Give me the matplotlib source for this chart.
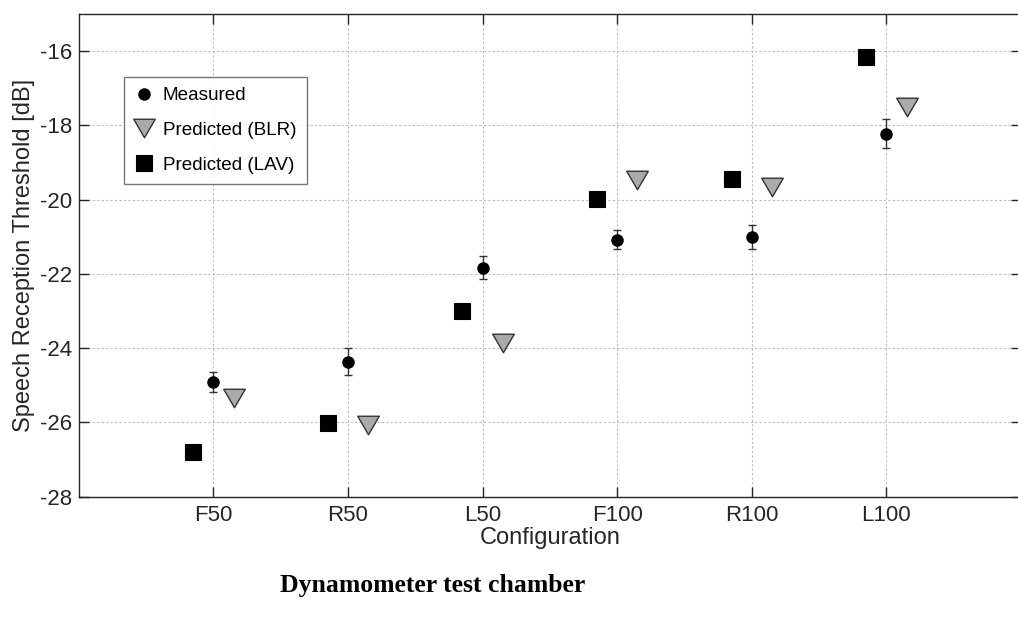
import matplotlib
matplotlib.use("Agg")
import matplotlib.pyplot as plt
import numpy as np
from matplotlib.path import Path

configs = ["F50", "R50", "L50", "F100", "R100", "L100"]
measured = [-24.92, -24.36, -21.83, -21.08, -21.01, -18.23]
measured_err = [0.27, 0.36, 0.31, 0.26, 0.32, 0.39]
predicted_blr = [-25.35, -26.08, -23.85, -19.46, -19.65, -17.50]
predicted_lav = [-26.79, -26.02, -22.99, -19.99, -19.45, -16.16]
yticks = [-28, -26, -24, -22, -20, -18, -16]

plt.rcParams['font.family'] = ['Liberation Sans', 'DejaVu Sans']

fig = plt.figure(figsize=(10.18, 6.26), dpi=100)
ax = fig.add_axes([78.7/1018, 129.3/626, (1021-78.7)/1018, (496.7-14)/626])

x = np.arange(1, len(configs) + 1)
off = 0.15
tri = Path([(-1, 0.86), (1, 0.86), (0, -0.86), (-1, 0.86)],
           [Path.MOVETO, Path.LINETO, Path.LINETO, Path.CLOSEPOLY])

ax.errorbar(x, measured, yerr=measured_err, fmt='none',
            ecolor='#333333', elinewidth=1.0, capsize=3, capthick=1.0, zorder=4)
h_meas, = ax.plot(x, measured, linestyle='none', marker='o', markersize=8,
                  color='black', label='Measured', zorder=5)
h_blr, = ax.plot(x + off, predicted_blr, linestyle='none', marker=tri, markersize=15.5,
                 markerfacecolor='#aaaaaa', markeredgecolor='#333333', markeredgewidth=1.0,
                 label='Predicted (BLR)', zorder=3)
h_lav, = ax.plot(x - off, predicted_lav, linestyle='none', marker='s', markersize=11,
                 markerfacecolor='black', markeredgecolor='black', markeredgewidth=0.8,
                 label='Predicted (LAV)', zorder=3)

ax.set_xlim(0, 7)
ax.set_ylim(-28, -15)
ax.set_xticks(x)
ax.set_xticklabels(configs)
ax.set_yticks(yticks)
ax.set_yticklabels([str(v) for v in yticks])

ax.grid(True, linestyle=(0, (2, 2)), color='#bbbbbb', linewidth=0.8)
ax.set_axisbelow(True)
for s in ax.spines.values():
    s.set_color('#262626')
    s.set_linewidth(1.0)
ax.tick_params(direction='in', length=7, width=1.0, colors='#262626',
               labelsize=16, top=True, right=True, labelcolor='#262626')
ax.tick_params(axis='x', pad=6)
ax.tick_params(axis='y', pad=5)

ax.set_xlabel('Configuration', fontsize=17, color='#262626', labelpad=1)
ax.set_ylabel('Speech Reception Threshold [dB]', fontsize=17, color='#262626', labelpad=3)

leg = ax.legend(handles=[h_meas, h_blr, h_lav], loc='upper left',
                bbox_to_anchor=(0.048, 0.870), borderaxespad=0,
                fontsize=13.6, frameon=True, fancybox=False, handlelength=1.0,
                handletextpad=0.5, labelspacing=0.92, borderpad=0.55)
leg.get_frame().set_edgecolor('#555555')
leg.get_frame().set_linewidth(1.0)

fig.text(433/1018, (626-592.3)/626, 'Dynamometer test chamber', ha='center',
         va='baseline', fontsize=18.5, fontweight='bold',
         family=['Liberation Serif', 'DejaVu Serif'])

fig.savefig('out.png', dpi=100)
